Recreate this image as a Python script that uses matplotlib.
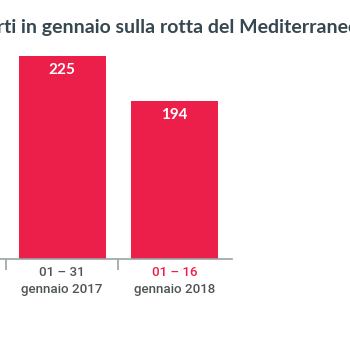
import matplotlib
matplotlib.use("Agg")
import matplotlib.pyplot as plt
from matplotlib.transforms import blended_transform_factory

# data
periods = ["01 – 31", "01 – 16"]
months = ["gennaio 2017", "gennaio 2018"]
deaths = [225, 194]
title = "Morti in gennaio sulla rotta del Mediterraneo centrale"

RED = "#ec1f4b"
DARK = "#37474f"
GREY_TXT = "#4f5557"
AXIS = "#9aa3a6"

fig = plt.figure(figsize=(3.5, 3.5), dpi=100)
W = H = 350.0
ax = fig.add_axes([0, 1 - 258.5 / H, 231.7 / W, 208.5 / H])

x = list(range(len(deaths)))
bars = ax.bar(x, deaths, width=0.775, color=RED, zorder=2)
ax.set_xlim(-0.552, 1.5076)
ax.set_ylim(84.6, 229.2)

for rect, v in zip(bars, deaths):
    ax.annotate(str(v), (rect.get_x() + rect.get_width() / 2, v),
                xytext=(0, -14), textcoords="offset pixels",
                ha="center", va="center", color="white",
                fontsize=11, fontweight="bold", family="Lato")

for s in ("top", "left", "right"):
    ax.spines[s].set_visible(False)
ax.spines["bottom"].set_color(AXIS)
ax.spines["bottom"].set_linewidth(1.2)
ax.set_yticks([])

# boundary ticks between categories
ax.set_xticks([-0.5, 0.5])
ax.set_xticklabels([])
ax.tick_params(axis="x", which="major", length=8, width=1.2, color=AXIS)

# two-line category labels, the current period highlighted in red
trans = blended_transform_factory(ax.transData, fig.transFigure)
for i, (p, m) in enumerate(zip(periods, months)):
    ax.text(i, 1 - 272.5 / H, p, transform=trans, ha="center", va="center",
            family="Roboto", fontweight="medium", fontsize=9.6,
            color=RED if i == len(deaths) - 1 else GREY_TXT)
    ax.text(i, 1 - 289 / H, m, transform=trans, ha="center", va="center",
            family="Roboto", fontweight="medium", fontsize=9.6, color=GREY_TXT)

# title is cut at the left edge in the reference: "Mo" falls off canvas
r = fig.canvas.get_renderer()
tkw = dict(fontsize=14, fontweight="bold", family="Lato")
p_full = fig.text(0, 0, title, **tkw)
p_rest = fig.text(0, 0, title[2:], **tkw)
off = p_full.get_window_extent(renderer=r).width - p_rest.get_window_extent(renderer=r).width
p_full.remove()
p_rest.remove()
fig.text((3 - off - 6) / W, 1 - 27 / H, title, color=DARK, va="center", ha="left", **tkw)

fig.savefig("out.png", dpi=100)
